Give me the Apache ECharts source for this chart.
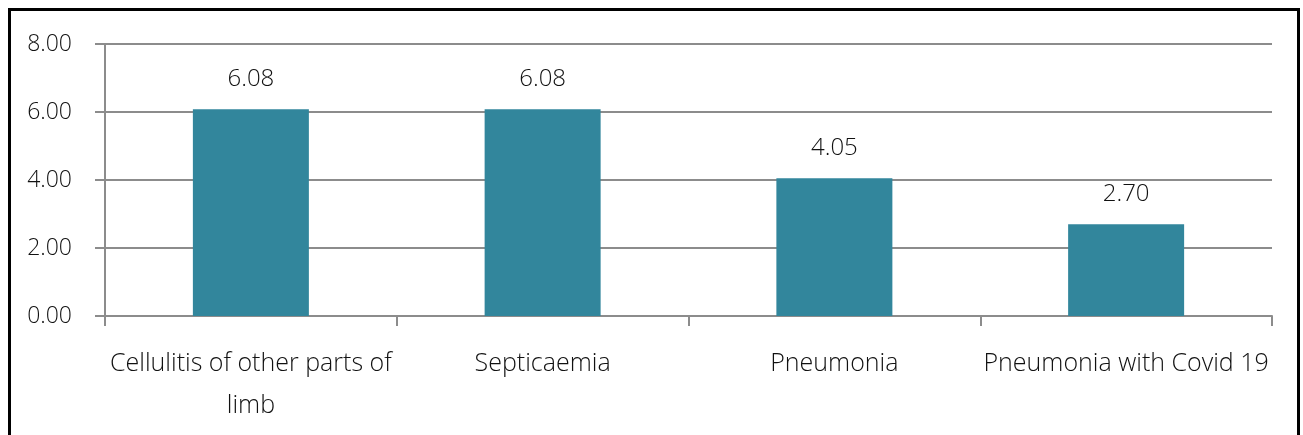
<!DOCTYPE html>
<html><head><meta charset="utf-8">
<script src="https://cdn.jsdelivr.net/npm/echarts@6/dist/echarts.min.js"></script>
<style>
html,body{margin:0;padding:0;background:#fff;overflow:hidden}
#frame{position:absolute;left:8px;top:8px;width:1286px;height:440px;border:3px solid #000;box-sizing:content-box}
#c{position:absolute;left:0;top:0;width:1303px;height:435px}
</style></head>
<body>
<div id="frame"></div>
<div id="c"></div>
<script>
const categories = ['Cellulitis of other parts of\nlimb', 'Septicaemia', 'Pneumonia', 'Pneumonia with Covid 19'];
const values = [6.08, 6.08, 4.05, 2.70];
const yTicks = [0, 2, 4, 6, 8];

const chart = echarts.init(document.getElementById('c'));
const font = '"Open Sans", sans-serif';
chart.setOption({
  animation: false,
  grid: {left: 105, right: 31, top: 44, bottom: 119},
  xAxis: {
    type: 'category', data: categories,
    axisLine: {lineStyle: {color: '#8c8c8c', width: 2}},
    axisTick: {show: true, length: 10, lineStyle: {color: '#8c8c8c', width: 2}},
    axisLabel: {color: '#111', fontSize: 25, fontFamily: font, fontWeight: 300, margin: 27, lineHeight: 42, interval: 0}
  },
  yAxis: {
    type: 'value', min: yTicks[0], max: yTicks[yTicks.length - 1], interval: 2,
    axisLine: {show: true, lineStyle: {color: '#8c8c8c', width: 2}},
    axisTick: {show: true, length: 10, lineStyle: {color: '#8c8c8c', width: 2}},
    splitLine: {lineStyle: {color: '#8c8c8c', width: 2}},
    axisLabel: {color: '#111', fontSize: 23, fontFamily: font, fontWeight: 300, margin: 33,
      formatter: v => v.toFixed(2)}
  },
  series: [{
    type: 'bar', data: values, barWidth: 116,
    itemStyle: {color: '#32869c'},
    label: {show: true, position: 'top', distance: 18, color: '#111', fontSize: 24, fontFamily: font, fontWeight: 300,
      formatter: p => p.value.toFixed(2)}
  }]
});
</script>
</body></html>
